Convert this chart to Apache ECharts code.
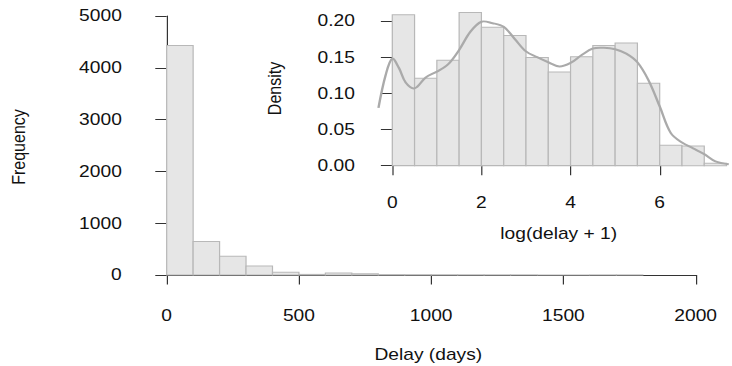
<!DOCTYPE html>
<html>
<head>
<meta charset="utf-8">
<script src="https://cdn.jsdelivr.net/npm/echarts@6/dist/echarts.min.js"></script>
<style>
  html, body { margin: 0; padding: 0; background: #fff; overflow: hidden; }
  /* the reference is a horizontally stretched R plot, so draw narrower and stretch */
  #chart { width: 610px; height: 366px; transform: scaleX(1.2); transform-origin: 0 0; }
</style>
</head>
<body>
<div id="chart"></div>
<script>
// main histogram: delay in days, bins of 100
const delayBreaks = [0, 100, 200, 300, 400, 500, 600, 700, 800, 900, 1000, 1100, 1200, 1300, 1400, 1500, 1600, 1700, 1800];
const delayCounts = [4430, 645, 360, 172, 52, 12, 40, 22, 8, 6, 5, 4, 3, 3, 0, 0, 2, 2];

// inset histogram: log(delay + 1), bins of 0.5, as density
const logBreaks = [0, 0.5, 1, 1.5, 2, 2.5, 3, 3.5, 4, 4.5, 5, 5.5, 6, 6.5, 7, 7.5];
const logDensity = [0.2086, 0.1207, 0.1456, 0.2119, 0.1912, 0.1801, 0.1497, 0.1294, 0.1506, 0.1663, 0.1695, 0.1138, 0.0282, 0.0272, 0.0033];

// kernel density curve
const kdeX = [-0.31, -0.15, 0, 0.15, 0.3, 0.5, 0.75, 1, 1.25, 1.5, 1.75, 2, 2.25, 2.5, 2.75, 3, 3.25, 3.5, 3.75, 4, 4.25, 4.5, 4.75, 5, 5.25, 5.5, 5.75, 6, 6.25, 6.5, 6.75, 7, 7.25, 7.55];
const kdeY = [0.080, 0.125, 0.148, 0.135, 0.115, 0.107, 0.122, 0.130, 0.140, 0.160, 0.185, 0.199, 0.197, 0.192, 0.175, 0.158, 0.150, 0.143, 0.137, 0.142, 0.153, 0.162, 0.163, 0.161, 0.155, 0.143, 0.118, 0.082, 0.045, 0.032, 0.024, 0.016, 0.006, 0.002];

const font = 'Liberation Sans, Arial, Helvetica, sans-serif';
const fs = 16;
const textColor = '#111';
const axisColor = '#333';
const barFill = '#e6e6e6';
const barStroke = '#b8b8b8';

function binRows(breaks, values) {
  return values.map((v, i) => [breaks[i], breaks[i + 1], v]);
}

function histItem(params, api) {
  const p0 = api.coord([api.value(0), 0]);
  const p1 = api.coord([api.value(1), api.value(2)]);
  return {
    type: 'rect',
    shape: { x: p0[0], y: p1[1], width: p1[0] - p0[0], height: p0[1] - p1[1] },
    style: { fill: barFill, stroke: barStroke, lineWidth: 1 }
  };
}

// whole curve drawn once, through the inset's scales
function kdeItem(params, api) {
  if (params.dataIndex !== 0) return null;
  const pts = kdeX.map((x, i) => api.coord([x, kdeY[i]]));
  return {
    type: 'polyline',
    shape: { points: pts, smooth: 0.35 },
    style: { stroke: '#aaaaaa', lineWidth: 2, fill: null }
  };
}

function makeAxis(extra, labelMargin, formatter) {
  return Object.assign({
    type: 'value',
    axisLine: { show: true, lineStyle: { color: axisColor, width: 1 } },
    axisTick: { show: true, length: 9.5, lineStyle: { color: axisColor } },
    splitLine: { show: false },
    axisLabel: {
      color: textColor, fontSize: fs, fontFamily: font, margin: labelMargin,
      formatter: formatter || (v => String(v))
    }
  }, extra);
}

function title(text, x, y, rotate) {
  return {
    type: 'text', x: x, y: y, rotation: rotate ? Math.PI / 2 : 0,
    style: {
      text: text, fill: textColor, fontSize: fs, fontFamily: font,
      align: 'center', verticalAlign: 'middle'
    }
  };
}

const chart = echarts.init(document.getElementById('chart'), null, { renderer: 'svg' });
chart.setOption({
  animation: false,
  grid: [
    { left: 138.9, right: 30.25, top: 16, bottom: 91 },
    { left: 326.9, right: 60.25, top: 21, bottom: 200.3 }
  ],
  xAxis: [
    makeAxis({ gridIndex: 0, min: 0, max: 2000, interval: 500, offset: 10 }, 23),
    makeAxis({ gridIndex: 1, min: 0, max: 6, interval: 2, offset: 6.6 }, 22)
  ],
  yAxis: [
    makeAxis({ gridIndex: 0, min: 0, max: 5000, interval: 1000, offset: 18.1 }, 19.3),
    makeAxis({ gridIndex: 1, min: 0, max: 0.2, interval: 0.05, offset: 11.7 }, 19.4, v => v.toFixed(2))
  ],
  graphic: [
    title('Frequency', 15.8, 147, true),
    title('Delay (days)', 356.9, 355, false),
    title('Density', 228.5, 88.5, true),
    title('log(delay + 1)', 465.6, 234, false)
  ],
  series: [
    {
      type: 'custom', xAxisIndex: 0, yAxisIndex: 0,
      data: binRows(delayBreaks, delayCounts),
      encode: { x: [0, 1], y: 2 },
      renderItem: histItem, clip: false
    },
    {
      type: 'custom', xAxisIndex: 1, yAxisIndex: 1,
      data: binRows(logBreaks, logDensity),
      encode: { x: [0, 1], y: 2 },
      renderItem: histItem, clip: false
    },
    {
      type: 'custom', xAxisIndex: 1, yAxisIndex: 1,
      data: kdeX.map((x, i) => [x, kdeY[i]]),
      encode: { x: 0, y: 1 },
      renderItem: kdeItem, clip: false
    }
  ]
});
</script>
</body>
</html>
